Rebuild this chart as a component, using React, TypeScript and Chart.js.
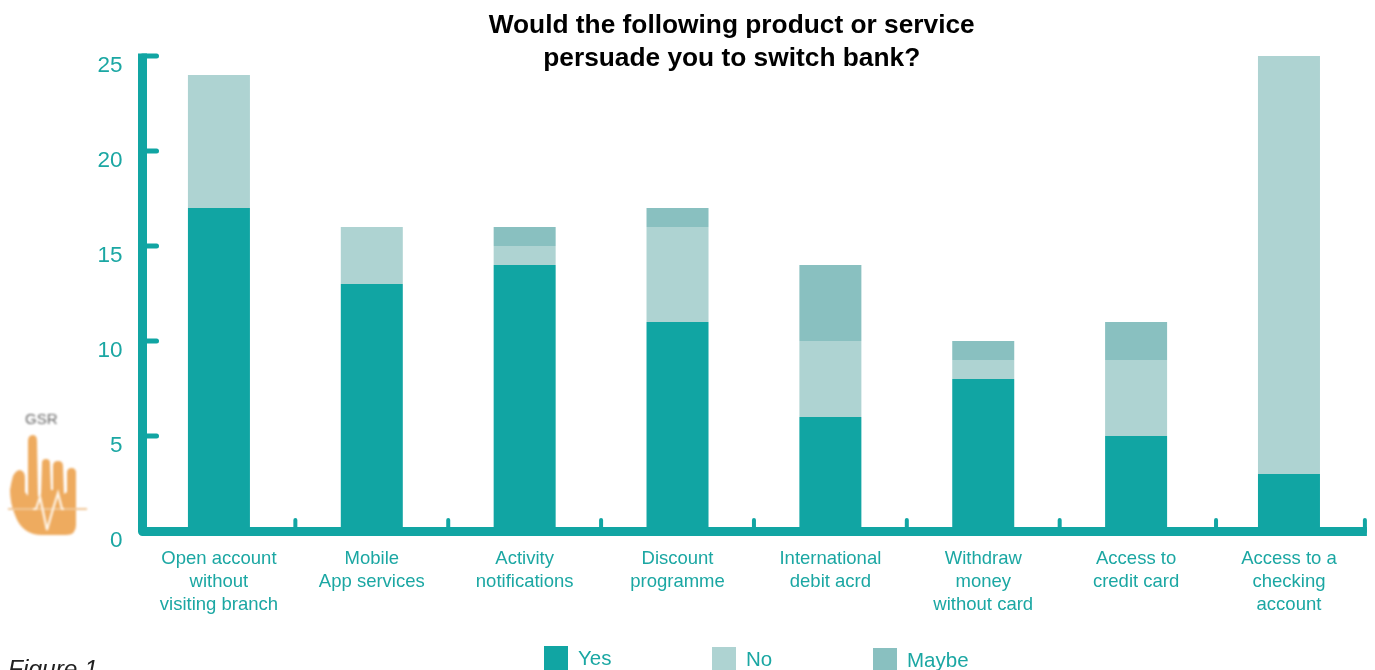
import React, { useEffect, useRef } from "react";
import { Chart, registerables } from "chart.js";

Chart.register(...registerables);

const categories = [
  ["Open account", "without", "visiting branch"],
  ["Mobile", "App services"],
  ["Activity", "notifications"],
  ["Discount", "programme"],
  ["International", "debit acrd"],
  ["Withdraw", "money", "without card"],
  ["Access to", "credit card"],
  ["Access to a", "checking", "account"],
];
const yesValues = [17, 13, 14, 11, 6, 8, 5, 3];
const noValues = [7, 3, 1, 5, 4, 1, 4, 22];
const maybeValues = [0, 0, 1, 1, 4, 1, 2, 0];
const titleLines = ["Would the following product or service", "persuade you to switch bank?"];

const TEAL = "#11a5a3";
const PALE = "#aed3d2";
const MID = "#89c0c0";
const TEXT_TEAL = "#1ba7a3";
const FONT = '"Liberation Sans", Arial, sans-serif';

// Heavy L-shaped axes with rounded ticks pointing into the plot, plus the legend row.
const axisFrame = {
  id: "axisFrame",
  afterLayout(chart: any) {
    // The title sits a little right of the page centre.
    chart.titleBlock.left += 98;
  },
  afterDatasetsDraw(chart: any) {
    const { ctx, scales } = chart;
    const { x, y } = scales;
    const axisX = y.left + y.width;
    const axisY = y.getPixelForValue(0) + 0.5;
    ctx.save();
    ctx.strokeStyle = TEAL;
    ctx.lineCap = "round";

    ctx.lineWidth = 5;
    for (const v of y.ticks.map((t: any) => t.value)) {
      if (v === 0) continue;
      const py = y.getPixelForValue(v);
      ctx.beginPath();
      ctx.moveTo(axisX, py);
      ctx.lineTo(axisX + 14, py);
      ctx.stroke();
    }

    ctx.lineWidth = 4;
    const step = x.width / categories.length;
    categories.forEach((_, i) => {
      const px = x.left + step * (i + 1) + (i === 6 ? 3.5 : 0) - (i === 7 ? 0.5 : 0);
      ctx.beginPath();
      ctx.moveTo(px, axisY);
      ctx.lineTo(px, axisY - 11.5);
      ctx.stroke();
    });

    ctx.lineWidth = 9;
    ctx.lineCap = "butt";
    ctx.lineJoin = "round";
    ctx.beginPath();
    ctx.moveTo(axisX, y.top - 2.5);
    ctx.lineTo(axisX, axisY);
    ctx.lineTo(x.right + 1.5, axisY);
    ctx.stroke();

    // Legend row
    const boxX = [544, 712, 873];
    const boxY = [646, 647, 648];
    const textX = [578, 746, 907];
    ctx.font = `20.5px ${FONT}`;
    ctx.textBaseline = "middle";
    chart.data.datasets.forEach((ds: any, i: number) => {
      ctx.fillStyle = ds.backgroundColor;
      ctx.fillRect(boxX[i], boxY[i], 24, 24);
      ctx.fillStyle = TEXT_TEAL;
      ctx.fillText(ds.label, textX[i], boxY[i] + 13);
    });

    // Caption cut by the lower page edge
    ctx.fillStyle = "#222222";
    ctx.font = `italic 24.5px ${FONT}`;
    ctx.textBaseline = "alphabetic";
    ctx.fillText("Figure 1", 8, 677);
    ctx.restore();
  },
};

function GsrIcon() {
  return (
    <svg
      width={90}
      height={150}
      viewBox="0 400 90 150"
      style={{ position: "absolute", left: 0, top: 400, filter: "blur(0.8px)" }}
    >
      <text x={25} y={424} fontFamily={FONT} fontSize={15} fill="#666666">GSR</text>
      <path
        fill="#eeab5f"
        d="M28 441 Q28 435 33 435 Q37 435 37 441 L38 497 L41 494 L42 463 Q42 459 46 459 Q50 459 50 463 L51 490 L53 490 L53 466 Q53 461 58 461 Q63 461 63 466 L64 494 L67 492 L67 473 Q67 468 71.5 468 Q76 468 76 473 L76 525 Q76 535 66 535 L42 535 Q22 535 15 515 Q10 503 10 490 Q11 483 13 476 Q16 470 20 470 Q25 471 25 478 L25 492 L28 496 Z"
      />
      <path d="M8 509 L87 509" stroke="#f0c696" strokeWidth={2} />
      <path
        d="M33 509 L36 509 L40 497 L47 530 L53 509 L58 493 L62 509 L64 509"
        fill="none"
        stroke="#fff6ea"
        strokeWidth={2.2}
      />
    </svg>
  );
}

export default function App() {
  const ref = useRef<HTMLCanvasElement>(null);

  useEffect(() => {
    document.body.style.margin = "0";
    const chart = new Chart(ref.current!, {
      type: "bar",
      data: {
        labels: categories,
        datasets: [
          { label: "Yes", data: yesValues, backgroundColor: TEAL },
          { label: "No", data: noValues, backgroundColor: PALE },
          { label: "Maybe", data: maybeValues, backgroundColor: MID },
        ],
      },
      options: {
        responsive: false,
        animation: false,
        layout: { padding: { left: 0, right: 9.6, top: 0, bottom: 0 } },
        datasets: { bar: { categoryPercentage: 1, barPercentage: 0.4056 } },
        plugins: {
          legend: { display: false },
          tooltip: { enabled: false },
          title: {
            display: true,
            text: titleLines,
            color: "#000000",
            font: { family: FONT, size: 26.3, weight: "bold", lineHeight: 33 / 26.3 },
            padding: { top: 9, bottom: -19 },
          },
        },
        scales: {
          x: {
            stacked: true,
            grid: { display: false, drawTicks: false },
            border: { display: false },
            afterFit(scale: any) {
              scale.height = 139;
            },
            ticks: {
              color: TEXT_TEAL,
              font: { family: FONT, size: 18.5, lineHeight: 23 / 18.5 },
              padding: 16,
              maxRotation: 0,
              minRotation: 0,
              autoSkip: false,
            },
          },
          y: {
            stacked: true,
            min: 0,
            max: 25,
            grid: { display: false, drawTicks: false },
            border: { display: false },
            afterFit(scale: any) {
              scale.width = 142.5;
            },
            ticks: {
              stepSize: 5,
              color: TEXT_TEAL,
              font: { family: FONT, size: 22.5 },
              padding: 20,
              labelOffset: 10,
            },
          },
        },
      },
      plugins: [axisFrame],
    } as any);
    return () => chart.destroy();
  }, []);

  return (
    <div style={{ position: "relative", width: 1375, height: 670, overflow: "hidden", background: "#ffffff" }}>
      <canvas ref={ref} width={1375} height={670} style={{ display: "block" }} />
      <GsrIcon />
    </div>
  );
}
